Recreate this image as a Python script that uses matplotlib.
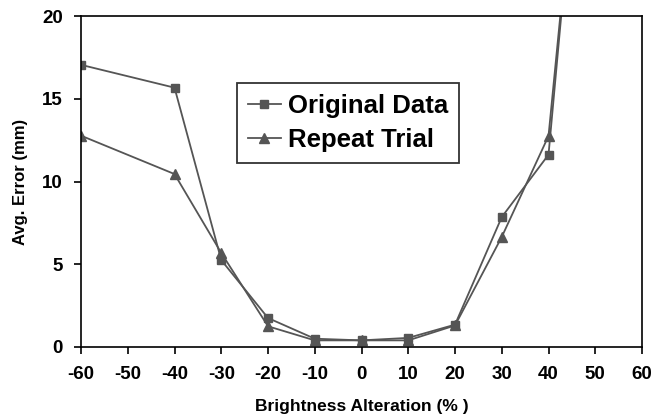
import numpy as np
import matplotlib
matplotlib.use("Agg")
import matplotlib.pyplot as plt

plt.rcParams['font.family'] = ['Liberation Sans', 'DejaVu Sans']
plt.rcParams['font.weight'] = 'bold'
plt.rcParams['axes.unicode_minus'] = False

# brightness alteration (%)
brillo = [-60, -40, -30, -20, -10, 0, 10, 20, 30, 40, 50]
# avg. error (mm)
original = [17.05, 15.67, 5.25, 1.75, 0.5, 0.4, 0.55, 1.35, 7.85, 11.62, 42.5]
repetido = [12.77, 10.45, 5.68, 1.25, 0.4, 0.4, 0.4, 1.3, 6.65, 12.75, 41.5]

gris = '#555555'

fig = plt.figure(figsize=(6.62, 4.16), dpi=100)
ax = fig.add_axes([0.1224, 0.1659, 0.8474, 0.7956])

ax.plot(brillo, original, color=gris, lw=1.3, marker='s', ms=6,
        label='Original Data')
ax.plot(brillo, repetido, color=gris, lw=1.3, marker='^', ms=6.5,
        label='Repeat Trial')

ax.set_xlim(-60, 60)
ax.set_ylim(0, 20)
ax.set_xticks(np.arange(-60, 61, 10))
ax.set_yticks([0, 5, 10, 15, 20])
ax.tick_params(axis='both', direction='out', length=5, width=1.2,
               labelsize=13.5, top=False, right=False)
ax.tick_params(axis='x', pad=9)
ax.tick_params(axis='y', pad=8)
for s in ax.spines.values():
    s.set_linewidth(1.2)

ax.set_xlabel('Brightness Alteration (% )', fontsize=12.5, fontweight='bold',
              labelpad=11)
ax.set_ylabel('Avg. Error (mm)', fontsize=12, fontweight='bold', labelpad=10)

leg = ax.legend(loc='upper left', bbox_to_anchor=(0.278, 0.798),
                borderaxespad=0,
                prop={'size': 18.5, 'weight': 'bold'}, frameon=True,
                fancybox=False, edgecolor='black', handlelength=1.3,
                handletextpad=0.25, borderpad=0.42, labelspacing=0.4)
leg.get_frame().set_linewidth(1.3)

fig.savefig('out.png', dpi=100)
